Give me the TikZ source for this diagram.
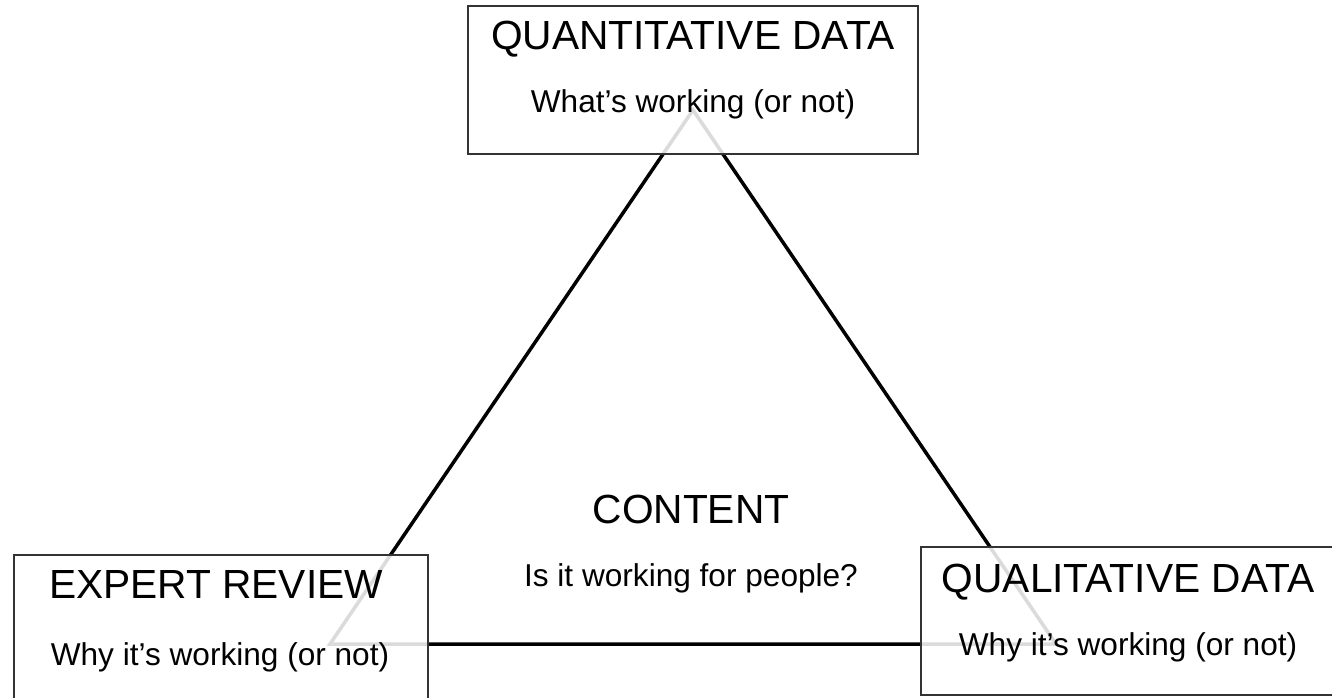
\documentclass[tikz,border=0pt]{standalone}
\usepackage{fontspec}
\setmainfont{Liberation Sans}
\usetikzlibrary{positioning}
\definecolor{boxline}{HTML}{333333}
\tikzset{
  corner/.style={draw=boxline, line width=1.5pt, fill=white, fill opacity=0.86,
    inner sep=0pt, outer sep=0pt},
  side/.style={line width=3.5pt, black},
  heading/.style={anchor=base, inner sep=0pt, font=\fontsize{40.7}{42}\selectfont},
  caption/.style={anchor=base, inner sep=0pt, font=\fontsize{31.6}{33}\selectfont},
}

\begin{document}
\begin{tikzpicture}[x=1pt, y=-1pt]
      \clip (0,0) rectangle (1332,698);
      \coordinate (quant) at (693,110);
      \coordinate (expert) at (330,644);
      \coordinate (qual) at (1056,644);
      % triangle
      \draw[side] (quant) -- (expert) -- (qual) -- cycle;
      % boxes on top
      \node[corner, minimum width=450pt, minimum height=148pt] (quantbox) at (693,80) {};
      \node[corner, minimum width=414pt, minimum height=157pt] (expertbox) at (221,633.5) {};
      \node[corner, minimum width=414pt, minimum height=148pt] (qualbox) at (1128,621) {};
      \node[heading] (quanttitle) at (693,50) {QUANTITATIVE DATA};
      \node[caption] (quanttext) at (693,113) {What’s working (or not)};
      \node[heading] (experttitle) at (216,598) {EXPERT REVIEW};
      \node[caption] (experttext) at (220,665) {Why it’s working (or not)};
      \node[heading] (qualtitle) at (1128,592) {QUALITATIVE DATA};
      \node[caption] (qualtext) at (1128,655) {Why it’s working (or not)};
      \node[heading] (contenttitle) at (691,523) {CONTENT};
      \node[caption] (contenttext) at (691,586) {Is it working for people?};
\end{tikzpicture}
\end{document}
